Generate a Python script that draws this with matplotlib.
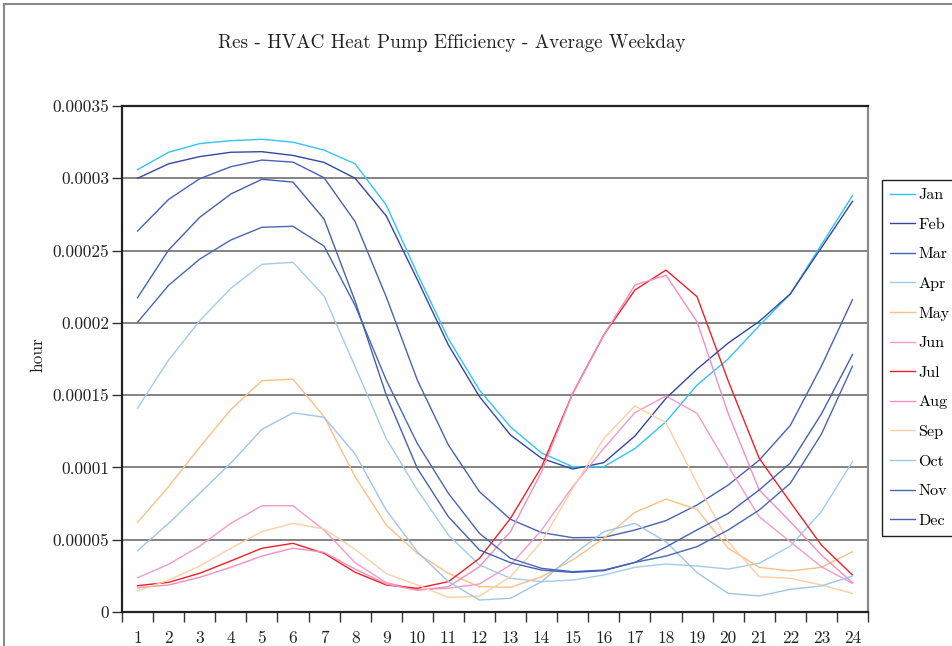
import matplotlib
matplotlib.use("Agg")
import matplotlib.pyplot as plt
from matplotlib.lines import Line2D

plt.rcParams['font.family'] = ['cmr10', 'DejaVu Serif']
plt.rcParams['axes.formatter.use_mathtext'] = True

hours = list(range(1, 25))
hour_labels = [str(h) for h in hours]

jan = [0.000306, 0.000318, 0.000324, 0.000326, 0.000327, 0.000325, 0.0003195, 0.00031,
       0.0002815, 0.000234, 0.000189, 0.0001535, 0.000128, 0.00011, 0.0001005, 0.0001005,
       0.000113, 0.0001316, 0.000157, 0.000175, 0.000198, 0.00022, 0.000254, 0.000288]
feb = [0.0003, 0.00031, 0.000315, 0.000318, 0.0003184, 0.0003158, 0.000311, 0.0003,
       0.000274, 0.00023, 0.0001847, 0.000149, 0.0001224, 0.0001063, 0.0000989, 0.0001033,
       0.0001217, 0.0001478, 0.000168, 0.000186, 0.000201, 0.00022, 0.000252, 0.000284]
mar = [0.0002635, 0.0002854, 0.0002997, 0.000308, 0.0003126, 0.0003112, 0.0003004, 0.00027,
       0.000218, 0.0001605, 0.0001155, 0.0000832, 0.0000641, 0.0000549, 0.0000514, 0.0000516,
       0.0000567, 0.0000632, 0.000074, 0.0000878, 0.000105, 0.000129, 0.00017, 0.000216]
apr = [0.000141, 0.0001743, 0.0002015, 0.0002239, 0.0002405, 0.0002419, 0.0002186, 0.0001697,
       0.00012, 0.0000844, 0.0000533, 0.0000325, 0.0000233, 0.000021, 0.0000221, 0.0000256,
       0.0000309, 0.0000332, 0.0000318, 0.0000297, 0.0000337, 0.0000456, 0.0000694, 0.000104]
may = [0.000062, 0.0000867, 0.000114, 0.00014, 0.00016, 0.0001611, 0.0001351, 0.0000936,
       0.0000602, 0.0000406, 0.0000267, 0.0000175, 0.0000171, 0.0000244, 0.000036, 0.000051,
       0.0000689, 0.0000781, 0.000071, 0.0000441, 0.0000309, 0.0000284, 0.0000309, 0.0000417]
jun = [0.0000237, 0.000033, 0.0000456, 0.0000613, 0.0000735, 0.0000735, 0.0000567, 0.0000341,
       0.0000203, 0.0000155, 0.0000164, 0.0000194, 0.0000325, 0.0000567, 0.0000867, 0.0001132,
       0.0001379, 0.0001494, 0.0001374, 0.000101, 0.0000659, 0.0000486, 0.0000313, 0.0000198]
jul = [0.0000182, 0.0000205, 0.0000268, 0.0000353, 0.0000441, 0.0000475, 0.0000406, 0.0000275,
       0.0000187, 0.0000164, 0.000021, 0.0000371, 0.0000648, 0.0001005, 0.0001512, 0.0001916,
       0.0002227, 0.0002365, 0.0002181, 0.00016, 0.0001063, 0.000076, 0.0000463, 0.0000256]
aug = [0.0000168, 0.0000187, 0.000024, 0.0000309, 0.0000387, 0.0000441, 0.0000413, 0.0000297,
       0.0000194, 0.000015, 0.0000175, 0.0000313, 0.0000556, 0.000097, 0.0001512, 0.0001916,
       0.0002261, 0.000233, 0.0002008, 0.0001374, 0.0000844, 0.0000625, 0.0000394, 0.0000203]
sep = [0.0000145, 0.0000221, 0.0000318, 0.0000441, 0.0000556, 0.0000613, 0.0000574, 0.0000434,
       0.0000265, 0.0000187, 0.0000101, 0.000011, 0.0000244, 0.0000486, 0.0000855, 0.00012,
       0.0001425, 0.0001309, 0.000089, 0.0000487, 0.0000244, 0.0000233, 0.0000187, 0.0000129]
oct_ = [0.0000424, 0.0000613, 0.0000821, 0.000103, 0.0001263, 0.0001378, 0.0001347, 0.0001093,
        0.0000705, 0.0000417, 0.000021, 0.0000083, 0.0000095, 0.000021, 0.0000394, 0.0000555,
        0.0000613, 0.0000486, 0.0000272, 0.0000129, 0.0000111, 0.0000157, 0.000018, 0.0000249]
nov = [0.0002004, 0.000226, 0.0002441, 0.0002573, 0.0002661, 0.0002668, 0.0002531, 0.000212,
       0.0001605, 0.0001166, 0.0000821, 0.0000544, 0.0000371, 0.0000302, 0.0000279, 0.000029,
       0.0000343, 0.0000387, 0.0000452, 0.0000567, 0.0000705, 0.000089, 0.000123, 0.00017]
dec = [0.0002174, 0.0002504, 0.000273, 0.0002891, 0.0002993, 0.0002974, 0.0002718, 0.000215,
       0.0001501, 0.0000994, 0.0000659, 0.0000429, 0.0000341, 0.000029, 0.0000274, 0.0000286,
       0.0000343, 0.000045, 0.0000568, 0.0000682, 0.0000844, 0.000103, 0.000137, 0.000178]

months = ['Jan', 'Feb', 'Mar', 'Apr', 'May', 'Jun', 'Jul', 'Aug', 'Sep', 'Oct', 'Nov', 'Dec']
series = [jan, feb, mar, apr, may, jun, jul, aug, sep, oct_, nov, dec]
colors = ['#33C4F2', '#3447A4', '#4862B4', '#A3CBEC', '#FDBF85', '#F49BC8', '#EE2026',
          '#F18FBE', '#FDCFA4', '#9FC5E8', '#4A66B5', '#4660B2']

ytick_vals = [0, 0.00005, 0.0001, 0.00015, 0.0002, 0.00025, 0.0003, 0.00035]
ytick_labels = ['0', '0.00005', '0.0001', '0.00015', '0.0002', '0.00025', '0.0003', '0.00035']

fig = plt.figure(figsize=(9.52, 6.46), dpi=100, facecolor='white')
ax = fig.add_axes([122/952, 1 - 612/646, 746/952, 506/646])

for vals, name, col in zip(series, months, colors):
    ax.plot(hours, vals, color=col, linewidth=1.0, label=name, zorder=3)

ax.set_xlim(0.5, 24.5)
ax.set_ylim(0, 0.00035)

ax.set_yticks(ytick_vals)
ax.set_yticklabels(ytick_labels)
ax.set_xticks(hours)
ax.set_xticklabels(hour_labels)
ax.set_xticks([h + 0.5 for h in range(0, 25)], minor=True)
ax.tick_params(axis='x', which='major', length=0, pad=13.5, labelsize=12.5, colors='#222222')
ax.tick_params(axis='x', which='minor', length=7, width=1.0, direction='out', color='#333333')
ax.tick_params(axis='y', length=7, width=1.0, direction='out', pad=2, labelsize=12.5,
               color='#333333', labelcolor='#222222')

ax.grid(axis='y', color='#7a7a7a', linewidth=1.3, zorder=1)
ax.set_axisbelow(True)

for side in ['left', 'top', 'bottom']:
    ax.spines[side].set_color('#222222')
    ax.spines[side].set_linewidth(1.6)
ax.spines['right'].set_color('#8a8a8a')
ax.spines['right'].set_linewidth(1.6)

fig.text(451.5/952, 1 - 43/646, 'Res - HVAC Heat Pump Efficiency - Average Weekday',
         ha='center', va='center', fontsize=13.8, color='#222222')
fig.text(38/952, 1 - 355/646, 'hour', rotation=90, ha='center', va='center',
         fontsize=12.5, color='#222222')

leg = ax.legend(loc='upper left', bbox_to_anchor=(882/952, 1 - 180/646),
                bbox_transform=fig.transFigure, borderaxespad=0, fancybox=False,
                edgecolor='#222222', fontsize=11.6, handlelength=1.55, handletextpad=0.2,
                labelspacing=0.95, borderpad=0.5, framealpha=1)
leg.get_frame().set_linewidth(1.0)

# thin frame along the top and left edges of the figure
fig.add_artist(Line2D([4/952, 1], [1 - 4/646, 1 - 4/646], color='#8a8a8a', linewidth=1.5,
                      transform=fig.transFigure))
fig.add_artist(Line2D([4/952, 4/952], [0, 1 - 4/646], color='#8a8a8a', linewidth=1.5,
                      transform=fig.transFigure))

fig.savefig('out.png', dpi=100, facecolor='white')
